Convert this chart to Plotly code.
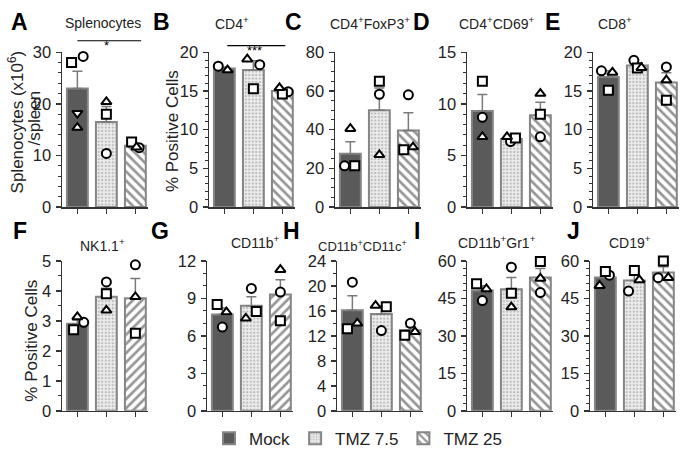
import plotly.graph_objects as go

# ---------------- data ----------------
groups = ["Mock", "TMZ 7.5", "TMZ 25"]
letters = ["A", "B", "C", "D", "E", "F", "G", "H", "I", "J"]
titles = ["Splenocytes", "CD4<sup>+</sup>", "CD4<sup>+</sup>FoxP3<sup>+</sup>",
          "CD4<sup>+</sup>CD69<sup>+</sup>", "CD8<sup>+</sup>", "NK1.1<sup>+</sup>",
          "CD11b<sup>+</sup>", "CD11b<sup>+</sup>CD11c<sup>+</sup>",
          "CD11b<sup>+</sup>Gr1<sup>+</sup>", "CD19<sup>+</sup>"]

a_mean = [23.0, 16.5, 11.9];  a_sem = [3.3, 3.0, 0.35]
a_circle = [29.2, 10.4, 11.5]; a_square = [28.0, 18.0, 12.6]; a_tri = [15.4, 20.4, 11.6]
a_tridown = [18.2, None, None]

b_mean = [17.9, 17.7, 15.0];  b_sem = [0.2, 1.2, 0.2]
b_circle = [18.2, 18.4, 14.9]; b_square = [None, 15.3, 14.6]; b_tri = [17.7, 19.1, 15.4]

c_mean = [27.5, 50.0, 39.5];  c_sem = [6.2, 11.5, 9.2]
c_circle = [21.3, 58.3, 58.0]; c_square = [21.3, 65.0, 29.6]; c_tri = [40.5, 27.0, 31.0]

d_mean = [9.3, 6.6, 8.9];  d_sem = [1.6, 0.15, 1.25]
d_circle = [8.7, 6.35, 6.8]; d_square = [12.2, 6.7, 9.0]; d_tri = [6.8, 6.8, 11.0]

e_mean = [16.8, 18.3, 16.1];  e_sem = [0.8, 0.3, 1.25]
e_circle = [17.6, 18.96, 18.1]; e_square = [15.1, 17.96, 13.8]; e_tri = [17.4, 18.0, 16.4]

f_mean = [2.9, 3.8, 3.75];  f_sem = [0.13, 0.29, 0.66]
f_circle = [2.95, 4.3, 4.87]; f_square = [2.7, 3.9, 2.59]; f_tri = [3.13, 3.35, 3.8]

g_mean = [7.7, 8.4, 9.3];  g_sem = [0.53, 0.72, 1.2]
g_circle = [6.7, 9.8, 9.5]; g_square = [8.5, 7.95, 7.2]; g_tri = [7.9, 7.4, 11.3]

h_mean = [16.1, 15.5, 12.9];  h_sem = [2.3, 1.3, 0.55]
h_circle = [20.6, 12.85, 14.0]; h_square = [13.15, 16.65, 12.1]; h_tri = [14.0, 16.85, 12.65]

i_mean = [48.1, 48.7, 53.4];  i_sem = [2.0, 4.7, 3.6]
i_circle = [44.1, 57.5, 47.3]; i_square = [50.9, 47.0, 59.8]; i_tri = [48.75, 41.5, 53.0]

j_mean = [53.4, 52.2, 55.4];  j_sem = [1.7, 2.4, 2.3]
j_circle = [54.3, 47.9, 53.3]; j_square = [55.8, 56.2, 60.0]; j_tri = [50.1, 52.4, 53.3]

y_max = [30, 20, 80, 15, 20, 5, 12, 24, 60, 60]
y_dtick = [10, 5, 20, 5, 5, 1, 3, 4, 15, 15]

# ---------------- styles / layout helpers ----------------
W, H = 680, 466
def px_x(v): return v / W
def px_y(v): return 1 - v / H

axis_left = [62, 209, 335, 467, 593, 62, 207, 337, 467, 590]
row_of = [0, 0, 0, 0, 0, 1, 1, 1, 1, 1]
row_top = [45, 262]
row_bot = [206, 418]
minor_dtick = [2, 1, 5, 1, 1, 0.5, 1, 2, 3, 3]
hatch = ["\\", "\\", "\\", "\\", "\\", "/", "/", "\\", "\\", "\\"]
XR = [-0.53, 2.42]
UNIT_PX = 29

# jitter offsets of points (circle, square, triangle) per group
off_circle = [[0.2, 0, 0.13], [-0.21, 0.22, 0.2], [-0.2, 0, 0], [0, -0.03, 0], [-0.24, -0.12, 0],
              [0.22, 0, 0], [0, 0, 0], [0, 0, 0], [0, 0, 0], [0.14, -0.2, -0.18]]
off_square = [[-0.2, 0, -0.13], [0, 0, 0], [0.15, 0, -0.16], [0, 0.14, 0], [0, 0, 0],
              [-0.13, 0, 0], [-0.18, 0.17, 0], [-0.17, 0.17, -0.19], [-0.2, 0, 0], [0, 0, 0]]
off_tri = [[0, 0, 0.04], [0.11, -0.21, -0.1], [0, 0, 0.16], [0, -0.15, 0], [0.14, 0.14, 0],
           [0, 0, 0], [0.14, -0.19, 0], [0.17, -0.2, 0.16], [0.14, 0, 0], [-0.2, 0.17, 0.17]]

panels = [
    (a_mean, a_sem, a_circle, a_square, a_tri),
    (b_mean, b_sem, b_circle, b_square, b_tri),
    (c_mean, c_sem, c_circle, c_square, c_tri),
    (d_mean, d_sem, d_circle, d_square, d_tri),
    (e_mean, e_sem, e_circle, e_square, e_tri),
    (f_mean, f_sem, f_circle, f_square, f_tri),
    (g_mean, g_sem, g_circle, g_square, g_tri),
    (h_mean, h_sem, h_circle, h_square, h_tri),
    (i_mean, i_sem, i_circle, i_square, i_tri),
    (j_mean, j_sem, j_circle, j_square, j_tri),
]

FONT = "Liberation Sans, Arial, Helvetica, sans-serif"
AXC = "#333333"
EDGE = "#858585"
ERRC = "#7a7a7a"

def bar_marker(g, k):
    if g == 0:
        return dict(color="#5a5a5a", line=dict(color=EDGE, width=2))
    if g == 1:
        return dict(color="#ececec", line=dict(color=EDGE, width=2),
                    pattern=dict(shape=".", fgcolor="#8a8a8a", bgcolor="#ededed",
                                 size=3.5, solidity=0.35))
    return dict(color="white", line=dict(color=EDGE, width=2),
                pattern=dict(shape=hatch[k], fgcolor="#2e2e2e", bgcolor="white",
                             size=6.5, solidity=0.42))

fig = go.Figure()
layout = {}
annotations = []
shapes = []

pt_style = dict(color="white", size=9, line=dict(color="black", width=2))

for k, (mean, sem, circ, sq, tri) in enumerate(panels):
    n = k + 1
    xa = "x" if n == 1 else f"x{n}"
    ya = "y" if n == 1 else f"y{n}"
    xkey = "xaxis" if n == 1 else f"xaxis{n}"
    ykey = "yaxis" if n == 1 else f"yaxis{n}"
    left = axis_left[k]
    right = left + (XR[1] - XR[0]) * UNIT_PX
    r = row_of[k]
    layout[xkey] = dict(domain=[px_x(left), px_x(right)], range=XR, anchor=ya,
                        showline=True, linecolor=AXC, linewidth=1.5, ticks="outside",
                        tickvals=[0, 1, 2], ticklen=5, tickwidth=1.5, tickcolor=AXC,
                        showticklabels=False, showgrid=False, zeroline=False, fixedrange=True)
    layout[ykey] = dict(domain=[px_y(row_bot[r]), px_y(row_top[r])], range=[0, y_max[k]],
                        anchor=xa, showline=True, linecolor=AXC, linewidth=1.5,
                        ticks="outside", ticklen=5, tickwidth=1.5, tickcolor=AXC,
                        dtick=y_dtick[k], tick0=0, showgrid=False, zeroline=False,
                        tickfont=dict(family=FONT, size=16.5, color="#222"),
                        minor=dict(ticks="outside", ticklen=3, tickwidth=1, tickcolor=AXC,
                                   dtick=minor_dtick[k], showgrid=False),
                        ticklabelstandoff=1, fixedrange=True)
    for g in range(3):
        fig.add_trace(go.Bar(x=[g], y=[mean[g]], width=0.72, xaxis=xa, yaxis=ya,
                             name=groups[g], legendgroup=groups[g], showlegend=(k == 0),
                             marker=bar_marker(g, k),
                             error_y=dict(type="data", array=[sem[g]], arrayminus=[0],
                                          symmetric=False, color=ERRC, thickness=1.5, width=5),
                             hoverinfo="skip"))
    for vals, offs, sym in ((circ, off_circle[k], "circle"), (sq, off_square[k], "square"),
                            (tri, off_tri[k], "triangle-up")):
        xs = [g + offs[g] for g in range(3)]
        fig.add_trace(go.Scatter(x=xs, y=vals, mode="markers", xaxis=xa, yaxis=ya,
                                 marker=dict(symbol=sym, **pt_style), showlegend=False,
                                 cliponaxis=False, hoverinfo="skip"))
    if k == 0:
        fig.add_trace(go.Scatter(x=[0, 1, 2], y=a_tridown, mode="markers", xaxis=xa, yaxis=ya,
                                 marker=dict(symbol="triangle-down", **pt_style),
                                 showlegend=False, cliponaxis=False, hoverinfo="skip"))

# panel letters and titles
letter_pos = [(19, 14), (161, 14), (293, 14), (421, 14), (552, 14),
              (20, 231), (160, 231), (291, 231), (417, 231), (573, 231)]
title_pos = [(103, 15), (232, 15), (370, 15), (497, 15), (615, 15),
             (103, 245), (255, 242), (362, 247), (497, 242), (630, 242)]
title_size = [14, 14, 14, 14, 14, 14, 14, 13, 14, 14]
for k in range(10):
    lx, ly = letter_pos[k]
    annotations.append(dict(text=f"<b>{letters[k]}</b>", x=px_x(lx), y=px_y(ly), xref="paper",
                            yref="paper", showarrow=False, xanchor="center", yanchor="middle",
                            font=dict(family=FONT, size=23, color="black")))
    tx, ty = title_pos[k]
    annotations.append(dict(text=titles[k], x=px_x(tx), y=px_y(ty), xref="paper", yref="paper",
                            showarrow=False, xanchor="center", yanchor="middle",
                            font=dict(family=FONT, size=title_size[k], color="#222")))

# y-axis titles
ytitle_font = dict(family=FONT, size=17, color="#222")
annotations.append(dict(text="Splenocytes (x10<sup>6</sup>)", x=px_x(16), y=px_y(118),
                        xref="paper", yref="paper", showarrow=False, textangle=-90,
                        xanchor="center", yanchor="middle", font=ytitle_font))
annotations.append(dict(text="/spleen", x=px_x(35), y=px_y(114),
                        xref="paper", yref="paper", showarrow=False, textangle=-90,
                        xanchor="center", yanchor="middle", font=ytitle_font))
annotations.append(dict(text="% Positive Cells", x=px_x(172), y=px_y(127), xref="paper",
                        yref="paper", showarrow=False, textangle=-90, xanchor="center",
                        yanchor="middle", font=ytitle_font))
annotations.append(dict(text="% Positive Cells", x=px_x(32), y=px_y(345), xref="paper",
                        yref="paper", showarrow=False, textangle=-90, xanchor="center",
                        yanchor="middle", font=ytitle_font))

# significance marks
shapes.append(dict(type="line", xref="x", yref="paper", x0=0, x1=2.2, y0=px_y(33), y1=px_y(33),
                   line=dict(color="black", width=1.2)))
annotations.append(dict(text="*", x=1, y=px_y(28), xref="x", yref="paper", showarrow=False,
                        font=dict(family=FONT, size=13, color="black")))
shapes.append(dict(type="line", xref="x2", yref="paper", x0=0.1, x1=2.1, y0=px_y(38),
                   y1=px_y(38), line=dict(color="black", width=1.2)))
annotations.append(dict(text="***", x=1.05, y=px_y(33), xref="x2", yref="paper",
                        showarrow=False, font=dict(family=FONT, size=13, color="black")))

fig.update_layout(
    width=W, height=H, autosize=False,
    margin=dict(l=0, r=0, t=0, b=0),
    paper_bgcolor="white", plot_bgcolor="white",
    barmode="overlay",
    font=dict(family=FONT, color="#222"),
    showlegend=True,
    legend=dict(orientation="h", x=px_x(358), y=px_y(447), xanchor="center", yanchor="middle",
                font=dict(family=FONT, size=17, color="#222"), itemwidth=30,
                bgcolor="rgba(0,0,0,0)"),
    annotations=annotations, shapes=shapes,
    **layout,
)

fig.write_html("out.html", config={"displayModeBar": False, "staticPlot": True},
               post_script="document.body.style.margin='0';document.body.style.padding='0';")
